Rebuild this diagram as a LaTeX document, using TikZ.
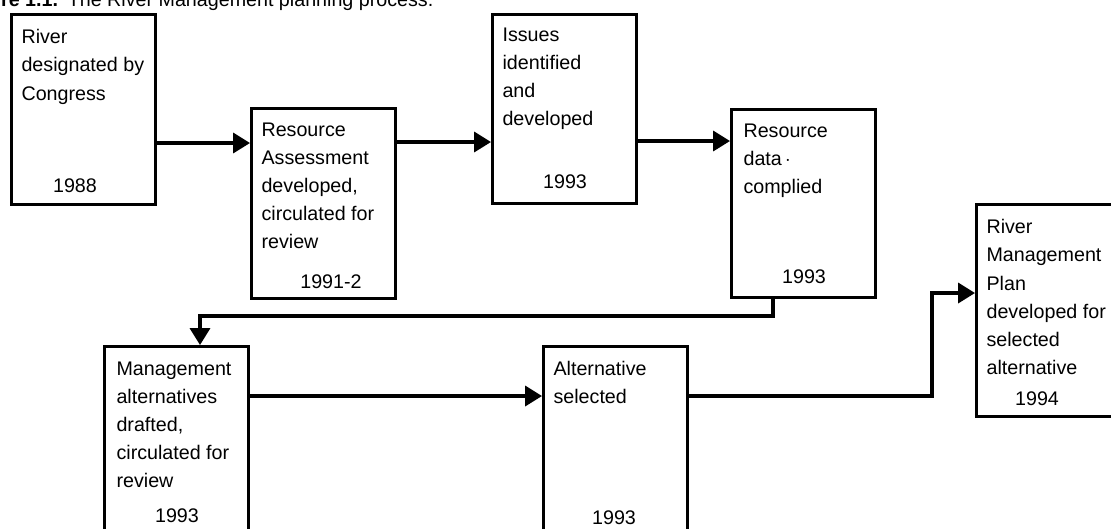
\documentclass[tikz,border=0pt]{standalone}
\usepackage{fontspec}
\setmainfont{Liberation Sans}
\usetikzlibrary{arrows.meta}
\begin{document}
\begin{tikzpicture}[x=0.025cm,y=-0.025cm,>={Triangle[length=4.2mm,width=5mm]},line width=2.2pt,font=\fontsize{14pt}{20pt}\selectfont,
	box/.style={draw,anchor=north west,minimum width=3.6cm,inner sep=0pt},
	txt/.style={anchor=north west,align=left,inner sep=0pt},
	yr/.style={anchor=base,inner sep=0pt}]
	\useasboundingbox (0,0) rectangle (1111,528);
	\node[anchor=base west,inner sep=0pt] (cap) at (-42,6) {\textbf{Figure 1.1.}\enspace The River Management planning process.};
	\foreach \n/\x/\y/\h in {b1/10/13/190,b2/250/107/190,b3/491/13/189,b4/730/108/188,b5/103/345/200,b6/542/345/200,b7/975/203/212}{
		\node[box,minimum height=\h*0.025cm] (\n) at (\x,\y) {};
	}
	% text sits 14px above the first baseline
	\node[txt] (t1) at (20,28) {River\\designated by\\Congress};
	\node[txt] (t2) at (260,121) {Resource\\Assessment\\developed,\\circulated for\\review};
	\node[txt] (t3) at (501,26) {Issues\\identified\\and\\developed};
	\node[txt] (t4) at (742,122) {Resource\\data\,$\cdot$\\complied};
	\node[txt] (t5) at (115,360) {Management\\alternatives\\drafted,\\circulated for\\review};
	\node[txt] (t6) at (552,360) {Alternative\\selected};
	\node[txt] (t7) at (985,218) {River\\Management\\Plan\\developed for\\selected\\alternative};
	\node[yr] (y1) at (75,192) {1988};
	\node[yr] (y2) at (331,288) {1991-2};
	\node[yr] (y3) at (565,188) {1993};
	\node[yr] (y4) at (804,283) {1993};
	\node[yr] (y5) at (177,522) {1993};
	\node[yr] (y6) at (614,524) {1993};
	\node[yr] (y7) at (1037,405) {1994};
	\coordinate (r1) at (0,143);
	\coordinate (r2) at (0,142);
	\coordinate (r3) at (0,141);
	\coordinate (r4) at (0,396);
	\coordinate (k1) at (773,316);
	\coordinate (k2) at (200,316);
	\coordinate (k3) at (932,293);
	\draw[->] (b1.east |- r1) -- (b2.west |- r1);
	\draw[->] (b2.east |- r2) -- (b3.west |- r2);
	\draw[->] (b3.east |- r3) -- (b4.west |- r3);
	\draw[->] (b4.south -| k1) -- (k1) -- (k2) -- (b5.north -| k2);
	\draw[->] (b5.east |- r4) -- (b6.west |- r4);
	\draw[->] (b6.east |- r4) -| (k3) -- (b7.west |- k3);
\end{tikzpicture}
\end{document}
